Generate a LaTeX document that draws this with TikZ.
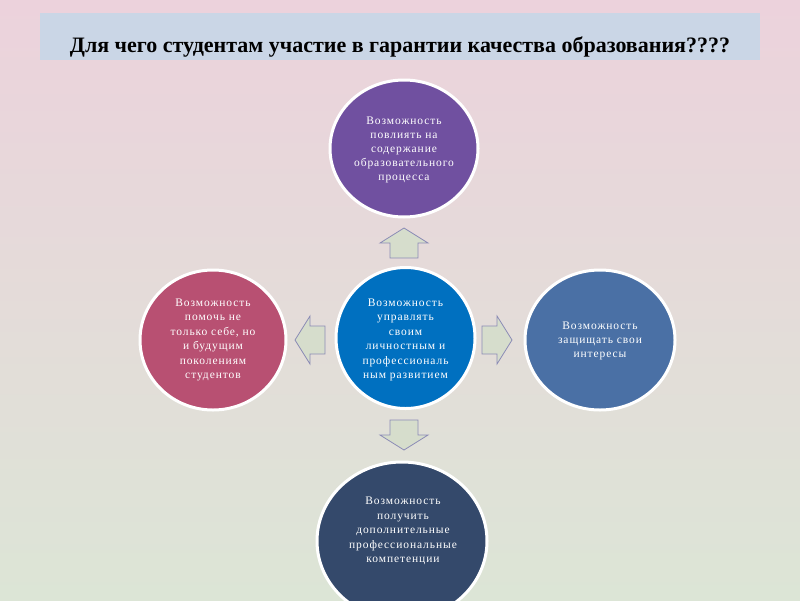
\documentclass[tikz,border=0pt]{standalone}
\usepackage{fontspec}
\setmainfont{Liberation Serif}
\newfontfamily\circfont[LetterSpace=8]{Liberation Serif}
\newfontfamily\titlefont{Liberation Serif}
\usetikzlibrary{shapes.geometric}
\definecolor{bgtop}{RGB}{236,210,220}
\definecolor{bgmid}{RGB}{227,225,218}
\definecolor{bgbot}{RGB}{220,229,214}
\definecolor{titlebox}{RGB}{202,214,230}
\definecolor{cpurple}{RGB}{112,80,160}
\definecolor{cblue}{RGB}{0,112,192}
\definecolor{cpink}{RGB}{184,80,114}
\definecolor{csteel}{RGB}{74,112,165}
\definecolor{cnavy}{RGB}{52,73,107}
\definecolor{arrfill}{RGB}{214,221,204}
\definecolor{arrline}{RGB}{140,140,182}
\tikzset{
  bubble/.style={ellipse, draw=white, line width=3pt, text=white, align=center,
    inner sep=0pt},
  bubbletext/.style={align=center, text=white, font=\circfont\fontsize{11.5}{14.4}\selectfont},
  blockarrstyle/.style={fill=arrfill, draw=arrline, line width=0.8pt, line join=miter},
  blockarr/.pic={\draw[blockarrstyle] (0,-14) -- (15,-14) -- (15,-24) -- (30,0) -- (15,24) -- (15,14) -- (0,14) -- cycle;}
}
\begin{document}
\begin{tikzpicture}[x=1pt,y=-1pt]
\useasboundingbox (0,0) rectangle (800,600);
\shade[top color=bgtop, middle color=bgmid, bottom color=bgbot] (0,0) rectangle (800,600);
\fill[titlebox] (40,13) rectangle (760,60);
\node[anchor=base, font=\titlefont\bfseries\fontsize{22}{26}\selectfont] (title) at (400,52.5)
  {Для чего студентам участие в гарантии качества образования????};

\node[bubble, fill=cpurple, minimum width=148pt, minimum height=137pt] (top) at (404,148.5) {};
\node[bubbletext, font=\circfont\fontsize{11.5}{14}\selectfont] (toptext) at (404,150)
  {Возможность\\повлиять на\\содержание\\образовательного\\процесса};

\node[bubble, fill=cblue, minimum width=139pt, minimum height=141pt] (center) at (405.5,338) {};
\node[bubbletext] (centertext) at (405.5,340)
  {Возможность\\управлять\\своим\\личностным и\\профессиональ\\ным развитием};

\node[bubble, fill=cpink, minimum width=146pt, minimum height=140pt] (left) at (213,340) {};
\node[bubbletext] (lefttext) at (213,340)
  {Возможность\\помочь не\\только себе, но\\и будущим\\поколениям\\студентов};

\node[bubble, fill=csteel, minimum width=150pt, minimum height=140pt] (right) at (600,340) {};
\node[bubbletext] (righttext) at (600,341)
  {Возможность\\защищать свои\\интересы};

\node[bubble, fill=cnavy, minimum width=170pt, minimum height=158pt] (bottom) at (402,541) {};
\node[bubbletext] (bottomtext) at (403,531)
  {Возможность\\получить\\дополнительные\\профессиональные\\компетенции};

\pic[rotate=90] at (404,258) {blockarr};
\pic[rotate=-90] at (404,420) {blockarr};
\pic[rotate=0] at (482,340) {blockarr};
\pic[rotate=180] at (325,340) {blockarr};
\end{tikzpicture}
\end{document}
